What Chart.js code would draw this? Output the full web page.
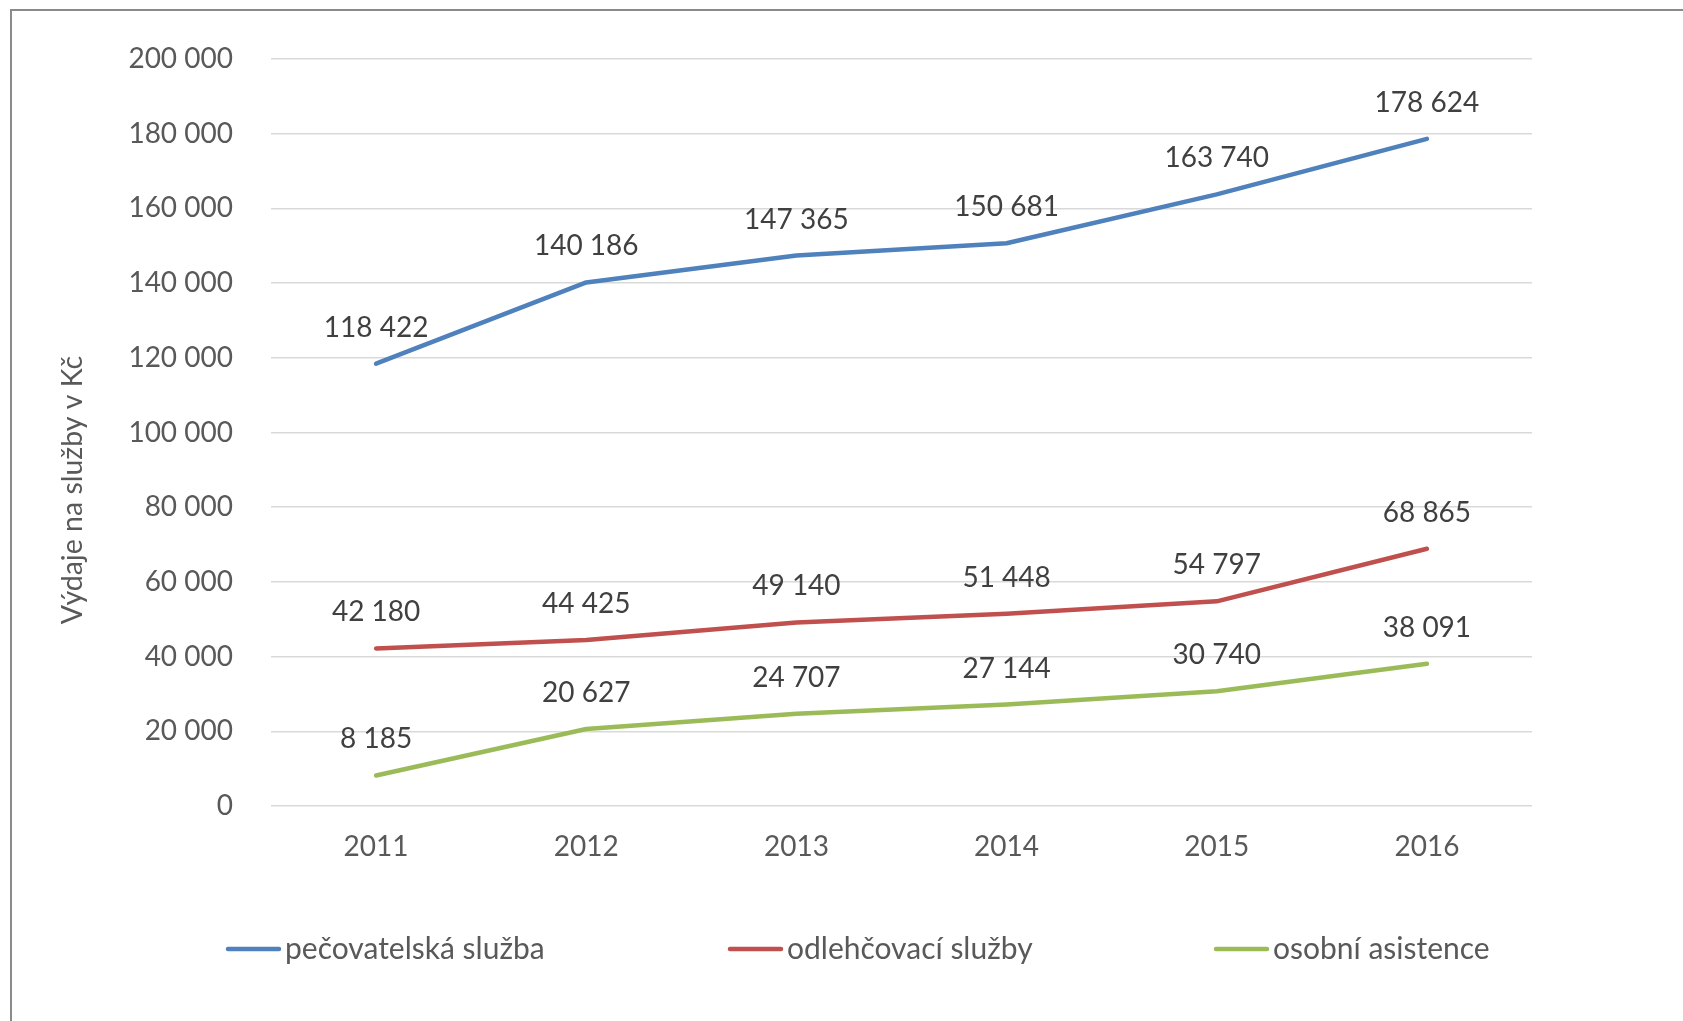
<!DOCTYPE html>
<html>
<head>
<meta charset="utf-8">
<script src="https://cdn.jsdelivr.net/npm/chart.js@4/dist/chart.umd.min.js"></script>
<style>
  html, body { margin: 0; padding: 0; background: #fff; overflow: hidden; }
  #wrap { position: relative; width: 1683px; height: 1021px; }
  #frame { position: absolute; left: 10px; top: 9px; width: 1700px; height: 1100px;
           border: 2px solid #8a8a8a; pointer-events: none; box-sizing: border-box; }
  canvas { position: absolute; left: 0; top: 0; }
</style>
</head>
<body>
<div id="wrap">
  <canvas id="chart" width="1683" height="1021"></canvas>
  <div id="frame"></div>
</div>
<script>
const years = ['2011', '2012', '2013', '2014', '2015', '2016'];
const pecovatelska = [118422, 140186, 147365, 150681, 163740, 178624];
const odlehcovaci = [42180, 44425, 49140, 51448, 54797, 68865];
const osobniAsistence = [8185, 20627, 24707, 27144, 30740, 38091];
const seriesNames = ['pečovatelská služba', 'odlehčovací služby', 'osobní asistence'];
const seriesColors = ['#4f81bd', '#c0504d', '#9bbb59'];
const yTitle = 'Výdaje na služby v Kč';

const FONT = 'Lato, "Open Sans", sans-serif';

// 118422 -> "118 422"
function fmt(v) {
  return String(v).replace(/\B(?=(\d{3})+(?!\d))/g, ' ');
}

// value labels above every point
const dataLabels = {
  id: 'dataLabels',
  afterDatasetsDraw(chart) {
    const ctx = chart.ctx;
    ctx.save();
    ctx.font = '28px ' + FONT;
    ctx.fillStyle = '#404040';
    ctx.textAlign = 'center';
    ctx.textBaseline = 'middle';
    chart.data.datasets.forEach((ds, i) => {
      chart.getDatasetMeta(i).data.forEach((pt, j) => {
        ctx.fillText(fmt(ds.data[j]), pt.x, pt.y - 36);
      });
    });
    ctx.restore();
  }
};

// rotated y title + legend row at the bottom
const extras = {
  id: 'extras',
  afterDraw(chart) {
    const ctx = chart.ctx;
    ctx.save();
    ctx.font = '28.5px ' + FONT;
    ctx.fillStyle = '#595959';
    ctx.textAlign = 'center';
    ctx.textBaseline = 'middle';
    ctx.translate(73, 490);
    ctx.rotate(-Math.PI / 2);
    ctx.fillText(yTitle, 0, 0);
    ctx.restore();

    const legendX = [226, 728, 1214];
    const legendY = 949;
    ctx.save();
    ctx.font = '30px ' + FONT;
    ctx.textBaseline = 'middle';
    ctx.textAlign = 'left';
    chart.data.datasets.forEach((ds, i) => {
      const x = legendX[i];
      ctx.strokeStyle = ds.borderColor;
      ctx.lineWidth = 4.5;
      ctx.lineCap = 'round';
      ctx.beginPath();
      ctx.moveTo(x + 2, legendY);
      ctx.lineTo(x + 53, legendY);
      ctx.stroke();
      ctx.fillStyle = '#595959';
      ctx.fillText(ds.label, x + 59, legendY);
    });
    ctx.restore();
  }
};

const seriesData = [pecovatelska, odlehcovaci, osobniAsistence];

new Chart(document.getElementById('chart'), {
  type: 'line',
  data: {
    labels: years,
    datasets: seriesData.map((d, i) => ({
      label: seriesNames[i],
      data: d,
      borderColor: seriesColors[i],
      backgroundColor: seriesColors[i],
      borderWidth: 4.5,
      borderCapStyle: 'round',
      borderJoinStyle: 'round',
      pointRadius: 0,
      tension: 0,
      fill: false
    }))
  },
  options: {
    responsive: false,
    animation: false,
    layout: { padding: { top: 59, left: 40, right: 151, bottom: 145 } },
    plugins: {
      legend: { display: false },
      tooltip: { enabled: false }
    },
    scales: {
      x: {
        offset: true,
        grid: { display: false, drawTicks: false },
        border: { display: false },
        ticks: { color: '#595959', font: { family: FONT, size: 28 }, padding: 24, maxRotation: 0 },
        afterFit(scale) { scale.height = 70; }
      },
      y: {
        min: 0,
        max: 200000,
        grid: { color: '#d9d9d9', lineWidth: 1.5, drawTicks: false },
        border: { display: false },
        ticks: {
          stepSize: 20000,
          color: '#595959',
          font: { family: FONT, size: 28 },
          padding: 38,
          callback: v => fmt(v)
        },
        afterFit(scale) { scale.width = 231; }
      }
    }
  },
  plugins: [dataLabels, extras]
});
</script>
</body>
</html>
